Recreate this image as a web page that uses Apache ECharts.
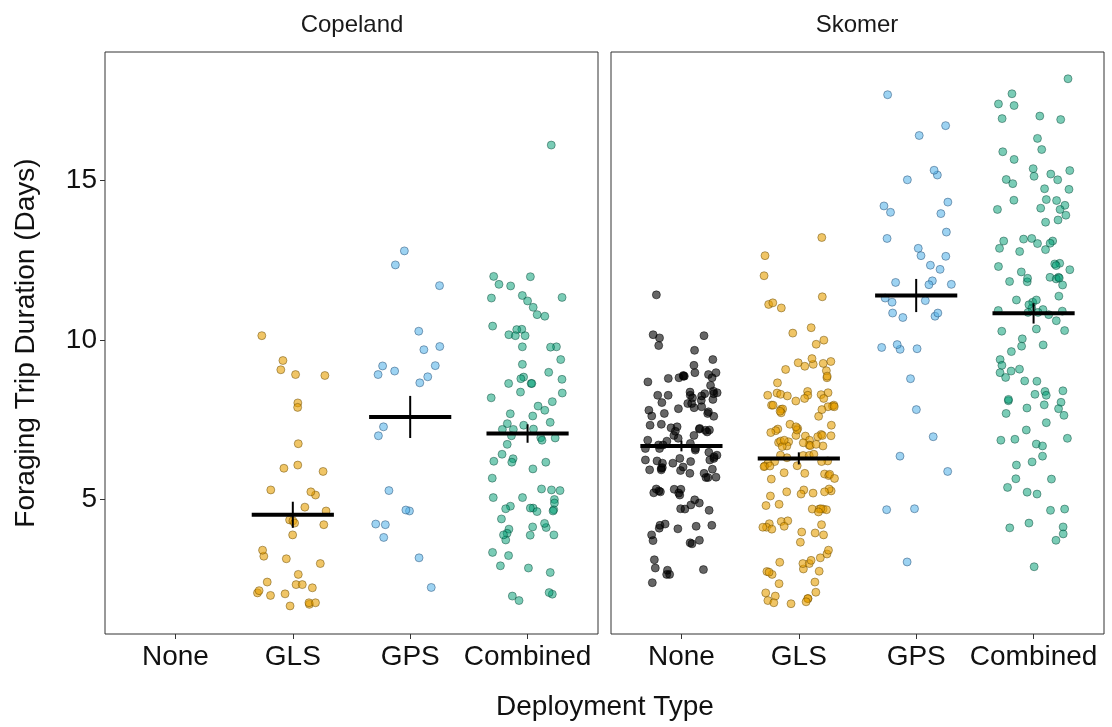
<!DOCTYPE html>
<html>
<head>
<meta charset="utf-8">
<script src="https://cdn.jsdelivr.net/npm/echarts@6/dist/echarts.min.js"></script>
<style>
html,body{margin:0;padding:0;background:#fff;}
#chart{width:1112px;height:727px;}
</style>
</head>
<body>
<div id="chart"></div>
<script>
// ---------- data ----------
const categories = ['None', 'GLS', 'GPS', 'Combined'];
const sites = ['Copeland', 'Skomer'];
const yTicks = [5, 10, 15];

const copelandNone = [];
const copelandGLS = [10.13, 9.35, 9.06, 8.88, 8.91, 8.02, 7.88, 6.74, 6.07, 5.97, 5.87, 5.13, 5.29, 5.23, 4.75, 4.63,
  4.35, 4.20, 4.32, 4.25, 3.88, 3.21, 3.40, 3.13, 2.98, 2.64, 2.40, 2.32, 2.22, 2.06, 2.32, 2.13, 2.03, 1.98, 1.70,
  1.75, 1.75, 1.65];
const copelandGPS = [12.79, 12.35, 11.70, 10.27, 9.79, 9.69, 9.18, 9.19, 8.91, 9.02, 8.84, 8.65, 7.27, 6.99, 5.27,
  4.63, 4.66, 4.20, 4.22, 3.80, 3.16, 2.23];
const copelandCombined = [16.11, 11.98, 11.99, 11.74, 11.69, 11.33, 11.39, 11.31, 11.22, 11.02, 10.74, 10.79, 10.43,
  10.33, 10.32, 10.16, 10.13, 10.13, 9.78, 9.77, 9.78, 9.38, 9.23, 8.98, 8.83, 8.76, 8.78, 8.63, 8.63, 8.63, 8.36,
  8.33, 8.18, 8.06, 7.92, 7.79, 7.68, 7.61, 7.37, 7.41, 7.32, 7.20, 7.19, 7.19, 6.92, 6.93, 6.85, 6.99, 6.72, 6.41,
  6.16, 6.19, 6.27, 6.16, 5.95, 5.66, 5.32, 5.29, 5.27, 5.05, 4.99, 5.05, 4.72, 4.67, 4.72, 4.78, 4.88, 4.70, 4.63,
  4.61, 4.38, 4.13, 4.11, 4.24, 4.06, 3.93, 3.72, 3.87, 3.88, 3.88, 3.33, 3.23, 2.84, 2.91, 2.70, 2.02, 1.96, 2.07,
  1.82];

const skomerNone = [11.41, 10.16, 10.13, 10.06, 9.82, 9.67, 9.38, 9.20, 8.97, 8.91, 8.86, 8.81, 8.88, 8.79, 8.97,
  8.86, 8.81, 8.68, 8.57, 8.39, 8.36, 8.24, 8.26, 8.10, 8.31, 8.26, 8.26, 8.31, 8.34, 8.18, 8.13, 8.00, 7.87, 8.00,
  8.03, 7.90, 7.74, 7.60, 7.69, 7.79, 7.69, 7.84, 7.61, 7.35, 7.17, 7.22, 7.32, 7.27, 7.11, 7.16, 7.24, 7.20, 7.13,
  7.00, 6.91, 6.82, 6.75, 7.00, 6.85, 6.70, 6.59, 6.59, 6.70, 6.59, 6.47, 6.54, 6.38, 6.33, 6.28, 6.18, 6.23, 6.23,
  6.20, 6.13, 6.01, 5.97, 5.94, 5.81, 5.69, 5.68, 5.92, 5.99, 5.81, 6.13, 6.28, 5.92, 5.90, 5.68, 5.32, 5.31, 5.13,
  4.88, 5.23, 5.20, 5.19, 5.31, 5.26, 4.98, 4.65, 4.82, 4.70, 4.69, 4.18, 4.09, 4.07, 4.22, 4.15, 4.18, 3.88, 3.71,
  3.70, 3.63, 3.60, 3.10, 2.79, 2.84, 2.77, 2.64, 2.64, 2.38];
const skomerGLS = [13.21, 12.64, 12.01, 11.35, 11.11, 11.00, 11.16, 10.38, 10.21, 9.86, 9.99, 9.23, 9.03, 9.28, 9.26,
  9.07, 8.81, 9.41, 9.32, 9.17, 8.86, 8.65, 8.33, 8.38, 8.26, 8.34, 8.28, 8.16, 8.29, 8.24, 8.26, 8.16, 8.08, 7.95,
  7.82, 7.92, 7.95, 7.95, 7.90, 7.83, 7.71, 7.60, 7.76, 7.90, 7.81, 7.20, 7.35, 7.32, 7.22, 7.15, 7.03, 6.96, 6.98,
  6.99, 7.00, 7.17, 6.78, 6.80, 6.85, 6.70, 6.68, 6.67, 6.67, 7.09, 7.00, 7.27, 6.72, 6.77, 6.82, 6.65, 6.85, 6.37,
  6.20, 6.30, 6.38, 6.37, 6.18, 6.05, 6.18, 6.13, 6.41, 6.04, 6.02, 6.04, 5.79, 5.81, 5.74, 5.78, 5.83, 5.63, 5.65,
  5.29, 5.26, 5.32, 5.23, 5.10, 5.19, 5.23, 5.16, 4.69, 4.84, 4.80, 4.69, 4.67, 4.70, 4.69, 4.60, 4.23, 4.20, 3.97,
  4.12, 3.94, 3.88, 4.30, 4.12, 4.06, 4.32, 4.15, 3.65, 3.28, 3.40, 2.81, 2.64, 2.98, 3.02, 2.74, 2.73, 2.98, 3.08,
  3.16, 2.71, 2.40, 2.35, 2.08, 2.06, 1.82, 1.88, 1.96, 1.75, 1.88, 1.72, 1.78];
const skomerGPS = [17.69, 16.72, 16.41, 15.17, 15.02, 15.32, 14.20, 13.96, 14.32, 14.00, 13.38, 13.18, 12.87, 12.62,
  12.64, 12.34, 12.21, 11.85, 11.74, 11.80, 11.73, 11.18, 11.31, 11.23, 10.74, 10.84, 10.84, 10.70, 9.70, 9.76, 9.85,
  9.72, 8.78, 7.81, 6.96, 6.35, 5.87, 4.67, 4.70, 3.03];
const skomerCombined = [18.19, 17.72, 17.35, 17.40, 16.94, 17.02, 16.91, 16.32, 15.90, 15.97, 15.66, 15.37, 15.03,
  14.90, 14.74, 15.13, 15.31, 15.20, 15.02, 14.72, 14.38, 14.13, 13.91, 14.40, 14.37, 14.09, 14.22, 14.09, 13.76,
  13.69, 13.16, 13.18, 12.77, 13.10, 13.10, 13.02, 12.87, 13.03, 12.83, 12.30, 12.20, 12.13, 12.40, 11.96, 11.83,
  11.82, 11.96, 11.93, 11.91, 11.94, 11.72, 12.38, 12.33, 11.18, 10.99, 11.25, 11.10, 10.92, 11.37, 11.25, 10.95,
  10.90, 10.79, 10.86, 10.86, 10.60, 10.27, 10.29, 10.34, 10.03, 9.84, 9.80, 9.63, 9.38, 9.08, 9.20, 9.02, 8.97, 8.70,
  8.71, 8.82, 8.38, 8.26, 8.09, 7.96, 7.63, 7.86, 8.13, 7.69, 8.04, 7.84, 8.40, 8.29, 7.40, 7.17, 6.91, 6.85, 6.73,
  6.67, 6.88, 6.35, 6.07, 6.17, 5.64, 5.63, 5.37, 5.22, 5.16, 4.69, 4.65, 4.13, 4.25, 3.91, 4.10, 3.71, 2.88];

// summary: mean and standard error per deployment type
const copelandMean = [null, 4.51, 7.58, 7.06];
const copelandSE = [null, 0.41, 0.66, 0.29];
const skomerMean = [6.67, 6.28, 11.39, 10.83];
const skomerSE = [0.17, 0.19, 0.52, 0.32];

// ---------- build ----------
const groups = [
  [copelandNone, copelandGLS, copelandGPS, copelandCombined],
  [skomerNone, skomerGLS, skomerGPS, skomerCombined]
];
const summaries = [[copelandMean, copelandSE], [skomerMean, skomerSE]];
const fills = ['rgba(0,0,0,0.6)', 'rgba(230,159,0,0.6)', 'rgba(86,180,233,0.58)', 'rgba(0,158,115,0.52)'];
const borders = ['rgba(0,0,0,0.65)', 'rgba(100,70,0,0.6)', 'rgba(30,70,110,0.6)', 'rgba(0,60,45,0.55)'];

// deterministic horizontal jitter (display only, hash of point index)
function jitter(i, k) {
  const s = Math.sin((i + 1) * 12.9898 + (k + 1) * 78.233) * 43758.5453;
  const f = s - Math.floor(s);
  return (f - 0.5) * 0.62;
}

const FONT = 'Liberation Sans, Arial, sans-serif';
const grids = [
  { left: 105, width: 493, top: 52, bottom: 93 },
  { left: 611, width: 493, top: 52, bottom: 93 }
];
const xAxes = [], yAxes = [], series = [];
grids.forEach((g, gi) => {
  xAxes.push({
    type: 'value', gridIndex: gi, min: 0.4, max: 4.6,
    axisLine: { show: false },
    splitLine: { show: false },
    axisTick: { show: true, customValues: [1, 2, 3, 4], length: 5, lineStyle: { color: '#333', width: 1 } },
    axisLabel: {
      customValues: [1, 2, 3, 4], formatter: v => categories[Math.round(v) - 1],
      fontSize: 28, fontFamily: FONT, color: '#111', margin: 9
    }
  });
  yAxes.push({
    type: 'value', gridIndex: gi, min: 0.77, max: 19.03,
    axisLine: { show: false },
    splitLine: { show: false },
    axisTick: { show: gi === 0, customValues: yTicks, length: 5, lineStyle: { color: '#333', width: 1 } },
    axisLabel: {
      show: gi === 0, customValues: yTicks,
      fontSize: 28, fontFamily: FONT, color: '#111', margin: 8
    }
  });
  groups[gi].forEach((vals, ci) => {
    series.push({
      type: 'scatter', xAxisIndex: gi, yAxisIndex: gi,
      symbol: 'circle', symbolSize: 8,
      itemStyle: { color: fills[ci], borderColor: borders[ci], borderWidth: 0.8, opacity: 1 },
      emphasis: { disabled: true },
      data: vals.map((v, i) => [ci + 1 + jitter(i, ci + gi * 4), v]),
      z: 2
    });
  });
  const [means, ses] = summaries[gi];
  series.push({
    type: 'custom', xAxisIndex: gi, yAxisIndex: gi, z: 5,
    data: means.map((m, ci) => [ci + 1, m, ses[ci]]).filter(d => d[1] != null),
    renderItem: (params, api) => {
      const x = api.value(0), m = api.value(1), se = api.value(2);
      const a = api.coord([x - 0.35, m]), b = api.coord([x + 0.35, m]);
      const t = api.coord([x, m + se]), u = api.coord([x, m - se]);
      return {
        type: 'group', children: [
          { type: 'line', shape: { x1: t[0], y1: t[1], x2: u[0], y2: u[1] }, style: { stroke: '#000', lineWidth: 2 } },
          { type: 'line', shape: { x1: a[0], y1: a[1], x2: b[0], y2: b[1] }, style: { stroke: '#000', lineWidth: 4 } }
        ]
      };
    }
  });
});

const option = {
  animation: false,
  backgroundColor: '#fff',
  grid: grids.map(g => Object.assign({ show: true, borderColor: '#333', borderWidth: 1, backgroundColor: 'transparent' }, g)),
  xAxis: xAxes,
  yAxis: yAxes,
  series: series,
  graphic: [
    { type: 'text', x: 352, y: 25, style: { text: sites[0], fontSize: 24, fontFamily: FONT, fill: '#1a1a1a', align: 'center', verticalAlign: 'middle' } },
    { type: 'text', x: 857, y: 25, style: { text: sites[1], fontSize: 24, fontFamily: FONT, fill: '#1a1a1a', align: 'center', verticalAlign: 'middle' } },
    { type: 'text', x: 605, y: 707, style: { text: 'Deployment Type', fontSize: 28, fontFamily: FONT, fill: '#111', align: 'center', verticalAlign: 'middle' } },
    { type: 'text', x: 26, y: 343, rotation: Math.PI / 2, style: { text: 'Foraging Trip Duration (Days)', fontSize: 28, fontFamily: FONT, fill: '#111', align: 'center', verticalAlign: 'middle' } }
  ]
};
const chart = echarts.init(document.getElementById('chart'), null, { renderer: 'canvas' });
chart.setOption(option);
</script>
</body>
</html>
